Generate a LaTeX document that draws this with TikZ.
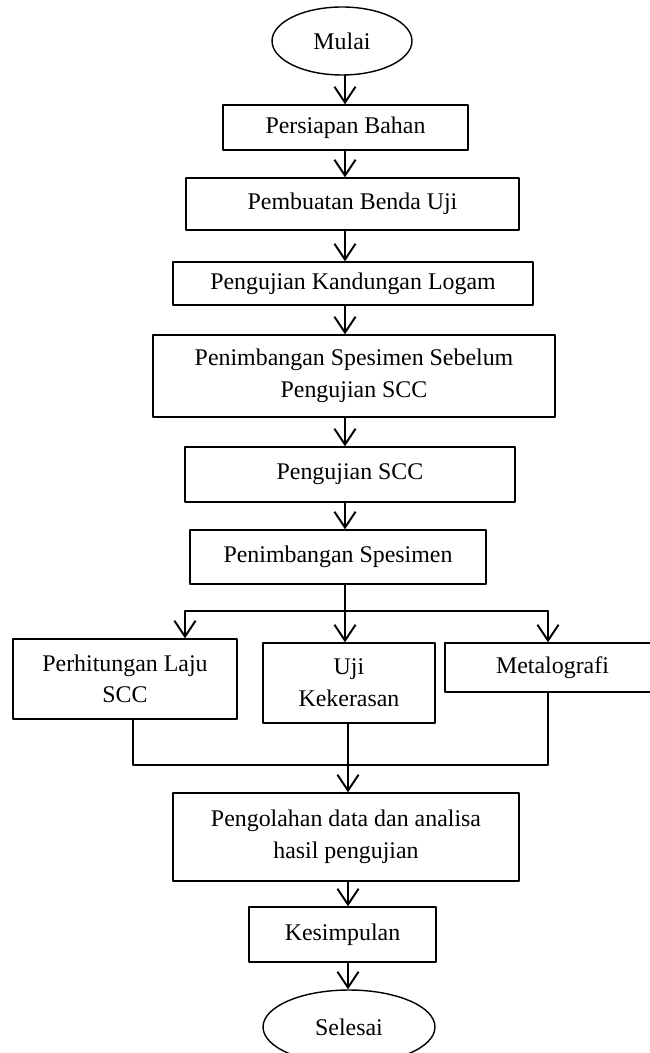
\documentclass[tikz,border=0pt]{standalone}
\usepackage{fontspec}
\setmainfont{Liberation Serif}
\usepackage{tikz}
\usetikzlibrary{arrows.meta,shapes.geometric,calc}

\begin{document}
\begin{tikzpicture}[line cap=round,line join=round,x=0.02cm,y=-0.02cm,
    >={Straight Barb[length=9pt,width=12pt,line width=1.1pt]},
    box/.style={draw,line width=0.8pt,rectangle,inner sep=0pt,align=center,
        font=\fontsize{13.6}{18}\selectfont},
    term/.style={draw,line width=0.8pt,ellipse,inner sep=0pt,
        font=\fontsize{13.6}{18}\selectfont},
    arr/.style={->,line width=1.1pt}]
    \useasboundingbox (0,0) rectangle (649,1053);
    \coordinate (spine) at (345,0);
    \node [term,minimum width=2.8cm,minimum height=1.36cm] (mulai) at (342,41) {Mulai};
    \node [box,minimum width=4.9cm,minimum height=0.9cm] (persiapan) at (345.5,127.5) {Persiapan Bahan};
    \node [box,minimum width=6.66cm,minimum height=1.04cm] (pembuatan) at (352.5,204) {Pembuatan Benda Uji};
    \node [box,minimum width=7.2cm,minimum height=0.86cm] (kandungan) at (353,283.5) {Pengujian Kandungan Logam};
    \node [box,minimum width=8.04cm,minimum height=1.64cm] (sebelum) at (354,376) {Penimbangan Spesimen Sebelum\\Pengujian SCC};
    \node [box,minimum width=6.6cm,minimum height=1.1cm] (pengujian) at (350,474.5) {Pengujian SCC};
    \node [box,minimum width=5.92cm,minimum height=1.08cm] (penimbangan) at (338,557) {Penimbangan Spesimen};
    \node [box,minimum width=4.48cm,minimum height=1.6cm] (laju) at (125,679) {Perhitungan Laju\\SCC};
    \node [box,minimum width=3.44cm,minimum height=1.6cm] (kekerasan) at (349,683) {Uji\\Kekerasan};
    \node [box,minimum width=4.3cm,minimum height=0.98cm] (metalografi) at (552.5,667.5) {Metalografi};
    \node [box,minimum width=6.92cm,minimum height=1.76cm] (pengolahan) at (346,837) {Pengolahan data dan analisa\\hasil pengujian};
    \node [box,minimum width=3.74cm,minimum height=1.1cm] (kesimpulan) at (342.5,934.5) {Kesimpulan};
    \node [term,minimum width=3.44cm,minimum height=1.48cm] (selesai) at (349,1027) {Selesai};
    \draw [arr] (mulai.south -| spine) -- (persiapan.north -| spine);
    \draw [arr] (persiapan.south -| spine) -- (pembuatan.north -| spine);
    \draw [arr] (pembuatan.south -| spine) -- (kandungan.north -| spine);
    \draw [arr] (kandungan.south -| spine) -- (sebelum.north -| spine);
    \draw [arr] (sebelum.south -| spine) -- (pengujian.north -| spine);
    \draw [arr] (pengujian.south -| spine) -- (penimbangan.north -| spine);
    \coordinate (split) at (345,611);
    \coordinate (sl) at (185,611);
    \coordinate (sr) at (548,611);
    \draw [line width=1.1pt] (penimbangan.south -| split) -- (split);
    \draw [line width=0.8pt] (sl) -- (sr);
    \draw [arr] (sl) -- (sl |- laju.north);
    \draw [arr] (split) -- (split |- kekerasan.north);
    \draw [arr] (sr) -- (sr |- metalografi.north);
    \coordinate (ml) at (133,765);
    \coordinate (mm) at (348,765);
    \coordinate (mr) at (548,765);
    \draw [line width=0.8pt] (ml |- laju.south) -- (ml) -- (mr) -- (mr |- metalografi.south);
    \draw [arr] (kekerasan.south -| mm) -- (mm |- pengolahan.north);
    \draw [arr] (pengolahan.south -| mm) -- (kesimpulan.north -| mm);
    \draw [arr] (kesimpulan.south -| mm) -- (selesai.north -| mm);
\end{tikzpicture}
\end{document}
